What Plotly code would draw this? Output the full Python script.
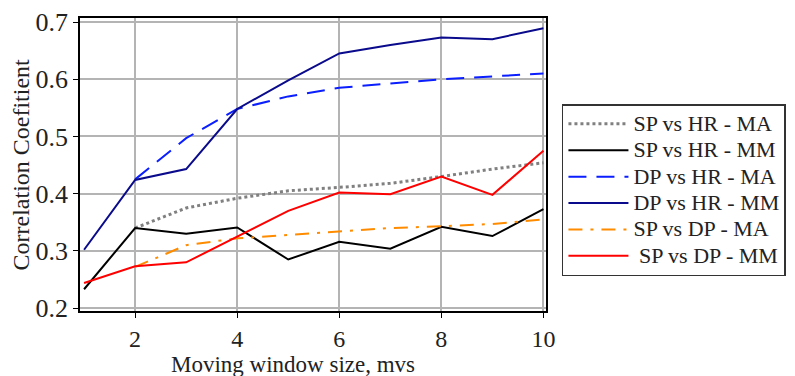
import plotly.graph_objects as go

window = [1, 2, 3, 4, 5, 6, 7, 8, 9, 10]
window_ma = [2, 3, 4, 5, 6, 7, 8, 9, 10]

sp_hr_ma = [0.340, 0.375, 0.392, 0.405, 0.411, 0.418, 0.430, 0.443, 0.454]
sp_hr_mm = [0.233, 0.340, 0.330, 0.341, 0.285, 0.316, 0.304, 0.342, 0.326, 0.373]
dp_hr_ma = [0.425, 0.497, 0.548, 0.570, 0.585, 0.593, 0.600, 0.605, 0.610]
dp_hr_mm = [0.302, 0.424, 0.443, 0.548, 0.598, 0.645, 0.660, 0.673, 0.670, 0.689]
sp_dp_ma = [0.272, 0.310, 0.322, 0.328, 0.334, 0.340, 0.343, 0.347, 0.355]
sp_dp_mm = [0.244, 0.273, 0.280, 0.325, 0.370, 0.402, 0.399, 0.430, 0.398, 0.475]

names = ['SP vs HR - MA', 'SP vs HR - MM', 'DP vs HR - MA',
         'DP vs HR - MM', 'SP vs DP - MA', ' SP vs DP - MM']

serif = 'Liberation Serif, Times New Roman, serif'


def big(label):
    # bigger legend text while keeping the tight row spacing of a small font
    return '<span style="font-size:22px">' + label + '</span>'


fig = go.Figure()
fig.add_trace(go.Scatter(x=window_ma, y=sp_hr_ma, mode='lines', name=big(names[0]),
                         line=dict(color='#808080', width=3, dash='dot')))
fig.add_trace(go.Scatter(x=window, y=sp_hr_mm, mode='lines', name=big(names[1]),
                         line=dict(color='black', width=2)))
fig.add_trace(go.Scatter(x=window_ma, y=dp_hr_ma, mode='lines', name=big(names[2]),
                         line=dict(color='#0a1eff', width=2, dash='18px,10px')))
fig.add_trace(go.Scatter(x=window, y=dp_hr_mm, mode='lines', name=big(names[3]),
                         line=dict(color='#0a0a8c', width=2)))
fig.add_trace(go.Scatter(x=window_ma, y=sp_dp_ma, mode='lines', name=big(names[4]),
                         line=dict(color='#ff8c00', width=2, dash='14px,8px,3px,8px')))
fig.add_trace(go.Scatter(x=window, y=sp_dp_mm, mode='lines', name=big(names[5]),
                         line=dict(color='#ff0000', width=2)))

axis_style = dict(showline=True, linecolor='black', linewidth=1.5, mirror=True,
                  showgrid=True, gridcolor='#b4b4b4', gridwidth=1.5,
                  ticks='outside', ticklen=5, tickcolor='black', zeroline=False,
                  automargin=False)

# page body adds 8px, so the figure is a bit smaller than the window
fig.update_layout(
    width=787, height=368,
    margin=dict(l=72, r=248, t=10, b=65),
    plot_bgcolor='white', paper_bgcolor='white',
    font=dict(family=serif, color='#222'),
    showlegend=True,
    legend=dict(x=1.032, y=0.706, xanchor='left', yanchor='top',
                bordercolor='#333', borderwidth=1.5, bgcolor='white',
                font=dict(family=serif, size=18, color='#222'),
                itemwidth=60, tracegroupgap=0),
    annotations=[
        dict(text='Moving window size, mvs', xref='paper', yref='paper',
             x=0.5, y=0, xanchor='center', yanchor='middle', xshift=-20, yshift=-53,
             showarrow=False, font=dict(family=serif, size=23, color='#222')),
        dict(text='Correlation Coefitient', xref='paper', yref='paper',
             x=0, y=0.5, xanchor='center', yanchor='middle', xshift=-60, textangle=-90,
             showarrow=False, font=dict(family=serif, size=24, color='#222')),
    ],
)
fig.update_xaxes(range=[0.92, 10.05], tickvals=[2, 4, 6, 8, 10],
                 tickfont=dict(family=serif, size=24, color='#222'), **axis_style)
fig.update_yaxes(range=[0.195, 0.707], tickvals=[0.2, 0.3, 0.4, 0.5, 0.6, 0.7],
                 tickfont=dict(family=serif, size=26, color='#222'), **axis_style)

fig.write_html("out.html")
